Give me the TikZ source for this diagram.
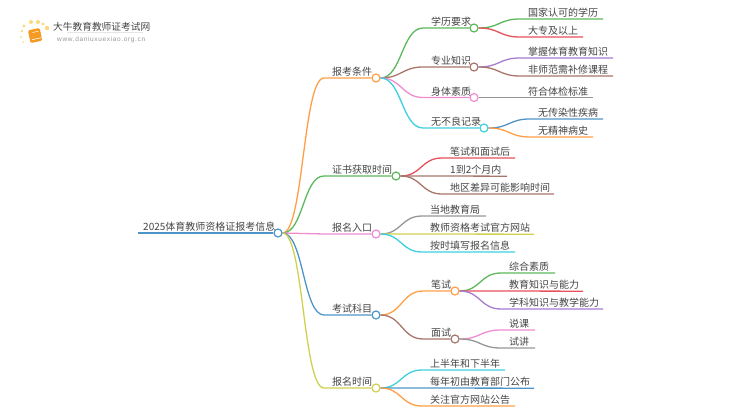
\documentclass[tikz,border=0pt]{standalone}
\usepackage{fontspec}
\setsansfont{Noto Sans CJK SC}
\newfontfamily\urlfont[LetterSpace=10]{Liberation Sans}
\usetikzlibrary{positioning}
\definecolor{clrblue}{HTML}{4E95C7}
\definecolor{clrorange}{HTML}{FF9F45}
\definecolor{clrgreen}{HTML}{5CB85C}
\definecolor{clrred}{HTML}{E8505B}
\definecolor{clrpurple}{HTML}{A97BD1}
\definecolor{clrbrown}{HTML}{A8756A}
\definecolor{clrpink}{HTML}{F08CD0}
\definecolor{clrgray}{HTML}{969696}
\definecolor{clryellow}{HTML}{CFCF50}
\definecolor{clrcyan}{HTML}{3DCFE0}
\definecolor{clrtext}{HTML}{444444}
\definecolor{clrbook}{HTML}{F59A23}
\definecolor{clrsun}{HTML}{FBD77E}

\begin{document}
\begin{tikzpicture}[
    x=1pt, y=-1pt,
    every node/.style={font=\sffamily},
    dot/.style={circle, draw=#1, fill=white, line width=1.2pt, minimum size=8pt, inner sep=0},
    topic/.style={anchor=south west, xshift=-8pt, inner xsep=8pt, inner ysep=1.4pt, text=clrtext, font=\sffamily\fontsize{10}{11}\selectfont},
    link/.style={color=#1, line width=1.3pt},
]
\useasboundingbox (0,0) rectangle (750,410);
% logo
\fill[clrsun] (24,26) circle (1.6) (22,31) circle (1.3) (31,22) circle (2) (38,22) circle (2) (43,24) circle (1.6) (47,28) circle (2.2) (21,37) circle (1) (23,42) circle (0.8);
\fill[clrbook, rounded corners=1.5pt, rotate around={12:(35,35)}] (29,29) rectangle (41,42);
\draw[white, line width=0.6pt, rotate around={12:(35,35)}] (31,39) -- (41,39);
\draw[white, line width=0.5pt, rotate around={12:(35,35)}] (33,32) -- (39,32);
\node[anchor=west, inner sep=0, text=clrtext, font=\sffamily\fontsize{9.7}{11}\selectfont] (n_title) at (53,27) {大牛教育教师证考试网};
\draw[color=clrgray!25, line width=0.5pt] ([yshift=-1pt]n_title.south west) ++ (14,0) -- ++ (76,0);
\node[anchor=west, inner sep=0, text=clrgray, font=\urlfont\fontsize{6.5}{7}\selectfont] (n_url) at (57,39.5) {www.daniuxuexiao.org.cn};
% root
\node[dot=clrblue] (n_0) at (278,233) {};
\node[topic, xshift=8pt, inner xsep=0] (n_0_text) at (143,233) {2025体育教师资格证报考信息};
\coordinate (n_0_start) at (138,233);
\draw[link=clrblue, line width=2pt] (n_0_start) -- (n_0.west);
% first level
\node[dot=clrorange] (n_1) at (376,78) {};
\node[topic] (n_1_text) at (332,78) {报考条件};
\node[dot=clrgreen] (n_2) at (396,176) {};
\node[topic] (n_2_text) at (332,176) {证书获取时间};
\node[dot=clrpink] (n_3) at (376,234) {};
\node[topic] (n_3_text) at (332,234) {报名入口};
\node[dot=clrblue] (n_4) at (376,315) {};
\node[topic] (n_4_text) at (332,315) {考试科目};
\node[dot=clryellow] (n_5) at (376,388) {};
\node[topic] (n_5_text) at (332,388) {报名时间};
\draw[link=clrorange] (n_0.east) .. controls +(21,0) and +(-21,0) .. (n_1_text.south west) -- (n_1.west);
\draw[link=clrgreen] (n_0.east) .. controls +(21,0) and +(-21,0) .. (n_2_text.south west) -- (n_2.west);
\draw[link=clrpink] (n_0.east) .. controls +(21,0) and +(-21,0) .. (n_3_text.south west) -- (n_3.west);
\draw[link=clrblue] (n_0.east) .. controls +(21,0) and +(-21,0) .. (n_4_text.south west) -- (n_4.west);
\draw[link=clryellow] (n_0.east) .. controls +(21,0) and +(-21,0) .. (n_5_text.south west) -- (n_5.west);
% second level
\node[dot=clrgreen] (n_11) at (474,28) {};
\node[topic] (n_11_text) at (431,28) {学历要求};
\node[dot=clrbrown] (n_12) at (474,67) {};
\node[topic] (n_12_text) at (431,67) {专业知识};
\node[dot=clrpink] (n_13) at (474,97.5) {};
\node[topic] (n_13_text) at (431,97.5) {身体素质};
\node[dot=clrcyan] (n_14) at (484,128) {};
\node[topic] (n_14_text) at (431,128) {无不良记录};
\node[dot=clrorange] (n_41) at (455,291) {};
\node[topic] (n_41_text) at (431,291) {笔试};
\node[dot=clrbrown] (n_42) at (455,339) {};
\node[topic] (n_42_text) at (431,339) {面试};
\draw[link=clrgreen] (n_1.east) .. controls +(21,0) and +(-21,0) .. (n_11_text.south west) -- (n_11.west);
\draw[link=clrbrown] (n_1.east) .. controls +(21,0) and +(-21,0) .. (n_12_text.south west) -- (n_12.west);
\draw[link=clrpink] (n_1.east) .. controls +(21,0) and +(-21,0) .. (n_13_text.south west) -- (n_13.west);
\draw[link=clrcyan] (n_1.east) .. controls +(21,0) and +(-21,0) .. (n_14_text.south west) -- (n_14.west);
\draw[link=clrorange] (n_4.east) .. controls +(21,0) and +(-21,0) .. (n_41_text.south west) -- (n_41.west);
\draw[link=clrbrown] (n_4.east) .. controls +(21,0) and +(-21,0) .. (n_42_text.south west) -- (n_42.west);
% leaves of the second level
\node[topic] (n_111) at (528,19) {国家认可的学历};
\coordinate (n_111_end) at (603,19);
\node[topic] (n_112) at (528,37) {大专及以上};
\coordinate (n_112_end) at (583,37);
\node[topic] (n_121) at (528,58) {掌握体育教育知识};
\coordinate (n_121_end) at (613,58);
\node[topic] (n_122) at (528,76) {非师范需补修课程};
\coordinate (n_122_end) at (613,76);
\node[topic] (n_131) at (528,97.5) {符合体检标准};
\coordinate (n_131_end) at (593,97.5);
\node[topic] (n_141) at (538,119) {无传染性疾病};
\coordinate (n_141_end) at (603,119);
\node[topic] (n_142) at (538,137) {无精神病史};
\coordinate (n_142_end) at (593,137);
\draw[link=clrgreen] (n_11.east) .. controls +(21,0) and +(-21,0) .. (n_111.south west) -- (n_111_end);
\draw[link=clrred] (n_11.east) .. controls +(21,0) and +(-21,0) .. (n_112.south west) -- (n_112_end);
\draw[link=clrpurple] (n_12.east) .. controls +(21,0) and +(-21,0) .. (n_121.south west) -- (n_121_end);
\draw[link=clrbrown] (n_12.east) .. controls +(21,0) and +(-21,0) .. (n_122.south west) -- (n_122_end);
\draw[link=clrgray] (n_13.east) .. controls +(21,0) and +(-21,0) .. (n_131.south west) -- (n_131_end);
\draw[link=clrblue] (n_14.east) .. controls +(21,0) and +(-21,0) .. (n_141.south west) -- (n_141_end);
\draw[link=clrorange] (n_14.east) .. controls +(21,0) and +(-21,0) .. (n_142.south west) -- (n_142_end);
\node[topic] (n_411) at (509,273) {综合素质};
\coordinate (n_411_end) at (555,273);
\node[topic] (n_412) at (509,291) {教育知识与能力};
\coordinate (n_412_end) at (583,291.2);
\node[topic] (n_413) at (509,309) {学科知识与教学能力};
\coordinate (n_413_end) at (603,309);
\node[topic] (n_421) at (509,330) {说课};
\coordinate (n_421_end) at (535,330);
\node[topic] (n_422) at (509,348) {试讲};
\coordinate (n_422_end) at (535,348);
\draw[link=clrgreen] (n_41.east) .. controls +(21,0) and +(-21,0) .. (n_411.south west) -- (n_411_end);
\draw[link=clrred] (n_41.east) .. controls +(21,0) and +(-21,0) .. (n_412.south west) -- (n_412_end);
\draw[link=clrpurple] (n_41.east) .. controls +(21,0) and +(-21,0) .. (n_413.south west) -- (n_413_end);
\draw[link=clrpink] (n_42.east) .. controls +(21,0) and +(-21,0) .. (n_421.south west) -- (n_421_end);
\draw[link=clrgray] (n_42.east) .. controls +(21,0) and +(-21,0) .. (n_422.south west) -- (n_422_end);
% leaves of the first level
\node[topic] (n_21) at (450,158) {笔试和面试后};
\coordinate (n_21_end) at (515,158);
\node[topic] (n_22) at (450,176) {1到2个月内};
\coordinate (n_22_end) at (507,176.2);
\node[topic] (n_23) at (450,194) {地区差异可能影响时间};
\coordinate (n_23_end) at (554,194);
\draw[link=clrred] (n_2.east) .. controls +(21,0) and +(-21,0) .. (n_21.south west) -- (n_21_end);
\draw[link=clrbrown] (n_2.east) .. controls +(21,0) and +(-21,0) .. (n_22.south west) -- (n_22_end);
\draw[link=clrbrown] (n_2.east) .. controls +(21,0) and +(-21,0) .. (n_23.south west) -- (n_23_end);
\node[topic] (n_31) at (430,216) {当地教育局};
\coordinate (n_31_end) at (486,216);
\node[topic] (n_32) at (430,234) {教师资格考试官方网站};
\coordinate (n_32_end) at (534,234.2);
\node[topic] (n_33) at (430,252) {按时填写报名信息};
\coordinate (n_33_end) at (515,252);
\draw[link=clrgray] (n_3.east) .. controls +(21,0) and +(-21,0) .. (n_31.south west) -- (n_31_end);
\draw[link=clryellow] (n_3.east) .. controls +(21,0) and +(-21,0) .. (n_32.south west) -- (n_32_end);
\draw[link=clrcyan] (n_3.east) .. controls +(21,0) and +(-21,0) .. (n_33.south west) -- (n_33_end);
\node[topic] (n_51) at (430,370) {上半年和下半年};
\coordinate (n_51_end) at (505,370);
\node[topic] (n_52) at (430,388) {每年初由教育部门公布};
\coordinate (n_52_end) at (534,388.2);
\node[topic] (n_53) at (430,406) {关注官方网站公告};
\coordinate (n_53_end) at (515,406);
\draw[link=clrcyan] (n_5.east) .. controls +(21,0) and +(-21,0) .. (n_51.south west) -- (n_51_end);
\draw[link=clrblue] (n_5.east) .. controls +(21,0) and +(-21,0) .. (n_52.south west) -- (n_52_end);
\draw[link=clrorange] (n_5.east) .. controls +(21,0) and +(-21,0) .. (n_53.south west) -- (n_53_end);
\end{tikzpicture}
\end{document}
